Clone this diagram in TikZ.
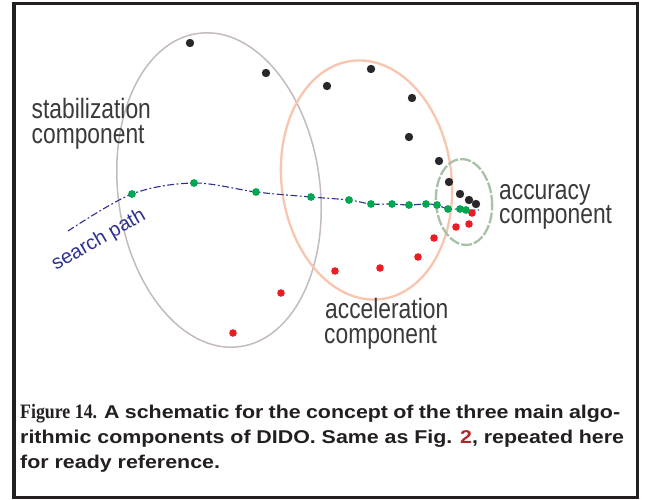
\documentclass[tikz,border=0pt]{standalone}
\usepackage{fontspec}
\setmainfont{Liberation Sans}
\newfontfamily\capserif{Liberation Serif}

\definecolor{framedark}{HTML}{231F20}
\definecolor{stabgray}{HTML}{C4BBBB}
\definecolor{accsalmon}{HTML}{F8C5AE}
\definecolor{accugreen}{HTML}{A8C2AA}
\definecolor{dotblack}{HTML}{28282C}
\definecolor{dotred}{HTML}{EC1C24}
\definecolor{dotgreen}{HTML}{00A651}
\definecolor{pathblue}{HTML}{2E3192}
\definecolor{labelgray}{HTML}{3A3A3A}
\definecolor{figred}{HTML}{B0282C}

% labels of the figure art are set slightly narrow
\newcommand{\narrowlbl}[1]{\scalebox{0.815}[1]{#1}}
\newcommand{\widecap}[1]{\scalebox{1.157}[1]{#1}}

\tikzset{
  lbl/.style={inner sep=0pt, anchor=base west, text=labelgray,
              font=\fontsize{28}{30}\selectfont},
  capt/.style={inner sep=0pt, anchor=base west, text=framedark,
               font=\fontsize{18.5}{22}\selectfont\bfseries},
  searchpath/.style={pathblue, line width=1.1pt,
                     dash pattern=on 7pt off 2.5pt on 1.8pt off 2.5pt},
}

\begin{document}
\begin{tikzpicture}[x=1pt,y=-1pt]
\useasboundingbox (0,0) rectangle (649,499);
\fill[white] (0,0) rectangle (649,499);

% outer frame
\draw[framedark, line width=3.3pt] (14,3.3) rectangle (637.5,497.5);

% the three component regions
\draw[stabgray, line width=1.5pt, rotate around={7.5:(219,190)}]
  (219,190) ellipse [x radius=101, y radius=158];
\draw[accsalmon, line width=2.3pt, rotate around={7:(366.5,180)}]
  (366.5,180) ellipse [x radius=85, y radius=120];
\draw[accugreen, line width=2.3pt, dash pattern=on 11pt off 2pt,
      rotate around={5:(464,202)}]
  (464,202) ellipse [x radius=28, y radius=43];

% search path points
\coordinate (sp0) at (68,231);
\foreach \n/\x/\y in {1/132/194, 2/194/183, 3/256/192, 4/311/197, 5/349/200,
                      6/371/204, 7/392/204, 8/409/205, 9/426/204, 10/437/205,
                      11/448/209, 12/460/209, 13/466/210}
  \coordinate (g\n) at (\x,\y);
\coordinate (sp1) at (479,210);

\draw[searchpath] plot[smooth, tension=0.55] coordinates
  {(sp0) (g1) (g2) (g3) (g4) (g5) (g6) (g7) (g8) (g9) (g10) (g11) (g12) (g13) (sp1)};

% black points
\foreach \n/\x/\y in {1/190/43, 2/266/73, 3/327/86, 4/371/69, 5/412/98,
                      6/409/137, 7/439/161, 8/449/182, 9/460/194, 10/469/200,
                      11/476/204}
  \fill[dotblack] (\x,\y) circle [radius=4.2];

% red points
\foreach \n/\x/\y in {1/472/213, 2/469/224, 3/456/227, 4/434/238, 5/418/257,
                      6/380/268, 7/335/271, 8/281/293, 9/233/333}
  \fill[dotred] (\x,\y) circle [radius=3.8];

% green points on the search path
\foreach \n in {1,...,13}
  \fill[dotgreen] (g\n) circle [radius=3.9];

% component labels
\node[lbl] (stab1) at (31.5,118.3) {\narrowlbl{stabilization}};
\node[lbl] (stab2) at (31.5,143.3) {\narrowlbl{component}};
\node[lbl] (acc1) at (325,318.3) {\narrowlbl{acceleration}};
\node[lbl] (acc2) at (324,343.3) {\narrowlbl{component}};
\node[lbl] (accu1) at (499,199.3) {\narrowlbl{accuracy}};
\node[lbl] (accu2) at (499,223.5) {\narrowlbl{component}};

\node[inner sep=0pt, anchor=base west, text=pathblue, rotate=30,
      font=\fontsize{20}{22}\selectfont]
  (splabel) at (56,271) {search path};

% caption
\node[inner sep=0pt, anchor=base west, text=framedark,
      font=\capserif\bfseries\fontsize{20.5}{23}\selectfont]
  (cap0) at (20,418) {\scalebox{0.87}[1]{Figure 14.}};
\node[capt] (cap1) at (104,418)
  {\widecap{\hbox to 446pt{A schematic for the concept of the three main algo-}}};
\node[capt] (cap2) at (20,443)
  {\widecap{\hbox to 522pt{rithmic components of DIDO. Same as Fig. \textcolor{figred}{2}, repeated here}}};
\node[capt] (cap3) at (20,468) {\widecap{for ready reference.}};
\end{tikzpicture}
\end{document}
